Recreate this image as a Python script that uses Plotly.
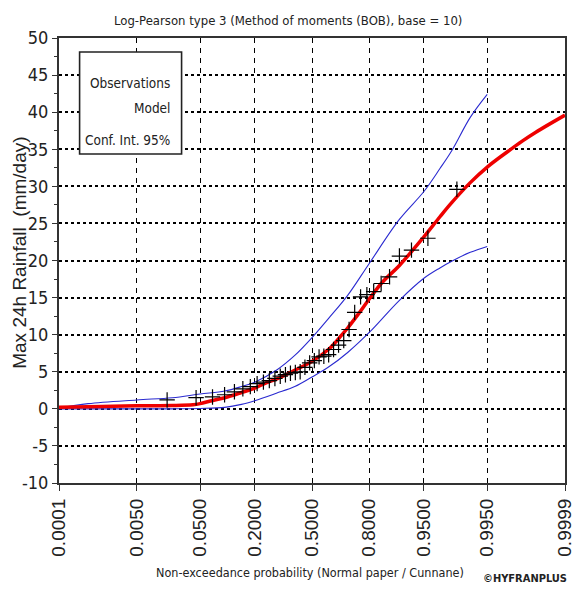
from statistics import NormalDist
import plotly.graph_objects as go

# ---------------- data ----------------
# observations (Cunnane plotting positions, n = 36)
obs_prob = [0.0166, 0.0442, 0.0718, 0.0994, 0.1271, 0.1547, 0.1823, 0.2099, 0.2376,
            0.2652, 0.2928, 0.3204, 0.3481, 0.3757, 0.4033, 0.4309, 0.4586, 0.4862,
            0.5138, 0.5414, 0.5691, 0.5967, 0.6243, 0.6519, 0.6796, 0.7072, 0.7348,
            0.7624, 0.7901, 0.8177, 0.8453, 0.8729, 0.9006, 0.9282, 0.9558, 0.9834]
obs_rain = [1.2, 1.5, 1.6, 1.9, 2.3, 2.7, 3.0, 3.4, 3.6,
            3.8, 4.1, 4.4, 4.6, 4.8, 4.9, 5.0, 5.6, 6.2,
            6.5, 7.0, 7.1, 7.3, 8.0, 8.6, 9.2, 10.7, 13.0,
            15.1, 15.4, 15.8, 16.9, 17.8, 20.6, 21.4, 23.0, 29.6]

# fitted model (Log-Pearson type 3)
model_prob = [0.0001, 0.001, 0.005, 0.02, 0.04, 0.05, 0.07, 0.1, 0.15, 0.2, 0.25, 0.3,
              0.4, 0.5, 0.6, 0.667, 0.7, 0.75, 0.8, 0.85, 0.9, 0.95, 0.97, 0.98, 0.99,
              0.995, 0.998, 0.999, 0.9995, 0.9999]
model_rain = [0.2, 0.3, 0.4, 0.45, 0.55, 0.7, 1.1, 1.5, 2.2, 2.8, 3.5, 4.0,
              5.2, 6.4, 8.1, 9.9, 10.9, 12.7, 14.8, 17.1, 19.3, 23.2, 25.9, 27.8, 30.5,
              32.6, 34.7, 36.1, 37.3, 39.6]

# 95% confidence interval
ci_prob = [0.0001, 0.0005, 0.005, 0.02, 0.05, 0.1, 0.15, 0.2, 0.3, 0.4, 0.5, 0.6,
           0.7, 0.8, 0.9, 0.95, 0.97, 0.98, 0.99, 0.995]
ci_upper = [0.1, 0.7, 1.2, 1.5, 2.0, 2.4, 3.0, 3.6, 5.2, 7.2, 9.6, 12.3,
            15.3, 19.6, 25.5, 29.3, 32.4, 34.8, 39.3, 42.4]
ci_lower = [0.0, 0.0, 0.0, 0.0, 0.05, 0.2, 0.6, 1.1, 2.1, 3.0, 4.3, 5.7,
            7.6, 10.3, 14.6, 17.6, 19.0, 19.9, 21.1, 21.9]

x_tick_prob = [0.0001, 0.005, 0.05, 0.2, 0.5, 0.8, 0.95, 0.995, 0.9999]
x_tick_text = ["0.0001", "0.0050", "0.0500", "0.2000", "0.5000", "0.8000", "0.9500", "0.9950", "0.9999"]
y_tick_vals = [-10, -5, 0, 5, 10, 15, 20, 25, 30, 35, 40, 45, 50]
y_tick_text = ["-10", "-5", "0", "5", "10", "15", "20", "25", "30", "35", "40", "45", "50"]

legend_labels = ["Observations", "Model", "Conf. Int. 95%"]

# normal probability paper transform
_nd = NormalDist()
def zq(ps):
    return [_nd.inv_cdf(p) for p in ps]

NARROW = "DejaVu Sans Condensed, Liberation Sans Narrow, sans-serif"
REG = "Liberation Sans, Arial, sans-serif"

fig = go.Figure()
fig.add_trace(go.Scatter(x=zq(ci_prob), y=ci_upper, mode="lines",
                         line=dict(color="#2a2ad0", width=1.1, shape="spline"),
                         showlegend=False, hoverinfo="skip"))
fig.add_trace(go.Scatter(x=zq(ci_prob), y=ci_lower, mode="lines",
                         line=dict(color="#2a2ad0", width=1.1, shape="spline"),
                         showlegend=False, hoverinfo="skip"))
fig.add_trace(go.Scatter(x=zq(model_prob), y=model_rain, mode="lines",
                         line=dict(color="#ee0000", width=3.5, shape="spline"),
                         showlegend=False))
fig.add_trace(go.Scatter(x=zq(obs_prob), y=obs_rain, mode="markers",
                         marker=dict(symbol="cross-thin", size=11,
                                     line=dict(color="black", width=1.2)),
                         showlegend=False))

xr = zq([x_tick_prob[0], x_tick_prob[-1]])

fig.update_xaxes(range=xr, tickvals=zq(x_tick_prob), ticktext=x_tick_text,
                 tickangle=-90, tickfont=dict(family=REG, size=19, color="#222"),
                 showgrid=True, gridcolor="black", gridwidth=1, griddash="5px,5px",
                 showline=True, linecolor="#333", linewidth=2, mirror=True,
                 ticks="outside", ticklen=6, tickcolor="#333", zeroline=False)
fig.update_yaxes(range=[-10, 50], tickvals=y_tick_vals, ticktext=y_tick_text,
                 tickfont=dict(family=NARROW, size=18, color="#222"),
                 showgrid=True, gridcolor="black", gridwidth=1.6, griddash="3px,3px",
                 showline=True, linecolor="#333", linewidth=2, mirror=True,
                 ticks="outside", ticklen=5, tickcolor="#333", zeroline=False,
                 minor=dict(ticks="outside", ticklen=3, dtick=2.5, tickcolor="#333",
                            showgrid=False))

W, H = 585, 589
L, R, T, B = 59, 10, 38, 106
pw, ph = W - L - R, H - T - B

def px(xp):
    return (xp - L) / pw

def py(yp):
    return (H - B - yp) / ph

shapes = [dict(type="rect", xref="paper", yref="paper",
               x0=px(80), x1=px(184), y0=py(154), y1=py(52),
               line=dict(color="#222", width=1.6), fillcolor="white", layer="above")]

annotations = [
    dict(text="Log-Pearson type 3 (Method of moments (BOB), base = 10)",
         xref="paper", yref="paper", x=px(293), y=py(21), showarrow=False,
         xanchor="center", yanchor="middle", font=dict(family=NARROW, size=13, color="#222")),
    dict(text="Max 24h Rainfall  (mm/day)", xref="paper", yref="paper",
         x=px(19), y=py(253), textangle=-90, showarrow=False,
         xanchor="center", yanchor="middle", font=dict(family=REG, size=19, color="#222")),
    dict(text="Non-exceedance probability (Normal paper / Cunnane)", xref="paper", yref="paper",
         x=px(315), y=py(572), showarrow=False, xanchor="center", yanchor="middle",
         font=dict(family=NARROW, size=12.5, color="#222")),
    dict(text="<b>©HYFRANPLUS</b>", xref="paper", yref="paper",
         x=px(579), y=py(578), showarrow=False, xanchor="right", yanchor="middle",
         font=dict(family=NARROW, size=11, color="#222")),
]
for lab, yy in zip(legend_labels, [83, 108, 140]):
    annotations.append(dict(text=lab, xref="paper", yref="paper", x=px(174), y=py(yy),
                            showarrow=False, xanchor="right", yanchor="middle",
                            font=dict(family=NARROW, size=13.5, color="#222")))

fig.update_layout(width=W, height=H, margin=dict(l=L, r=R, t=T, b=B),
                  paper_bgcolor="white", plot_bgcolor="white",
                  shapes=shapes, annotations=annotations, showlegend=False)

fig.write_html("out.html")
